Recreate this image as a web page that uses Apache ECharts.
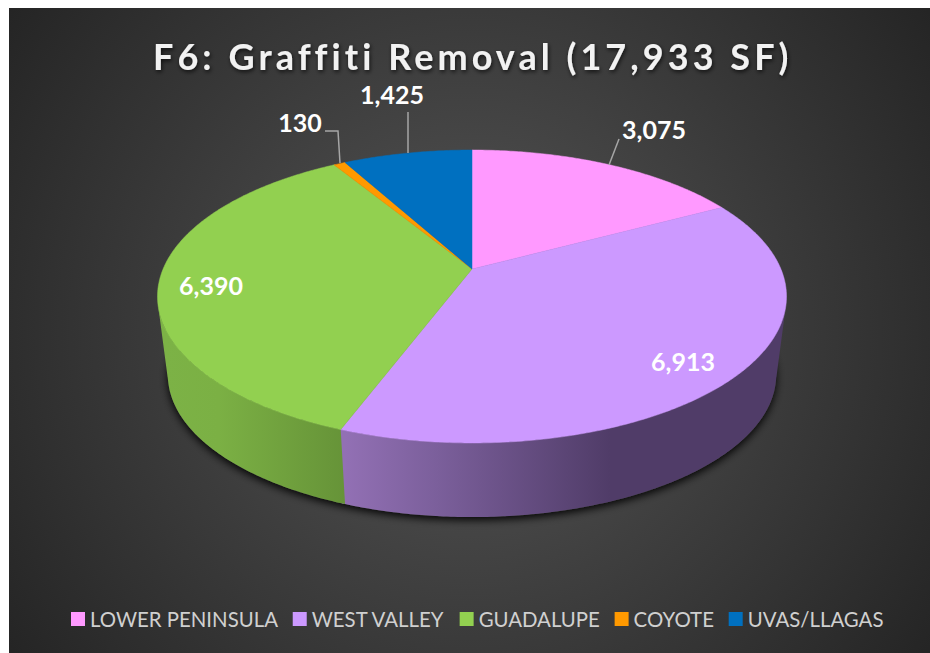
<!DOCTYPE html>
<html><head><meta charset="utf-8">
<style>
html,body{margin:0;padding:0;background:#fff}
#c{position:absolute;left:0;top:0;width:930px;height:653px}
text[style*="36px"]{letter-spacing:4.05px}
</style>
<script src="https://cdn.jsdelivr.net/npm/echarts@6/dist/echarts.min.js"></script>
</head><body><div id="c"></div>
<script>
const categories = ['LOWER PENINSULA','WEST VALLEY','GUADALUPE','COYOTE','UVAS/LLAGAS'];
const values = [3075,6913,6390,130,1425];
const valueLabels = ['3,075','6,913','6,390','130','1,425'];
const topColors = ['#ff99ff','#cc99ff','#92d050','#ff9900','#0070c0'];
const titleText = 'F6: Graffiti Removal (17,933 SF)';

// Projection of the disc (perspective view of a circle)
const cx=472, apexY=269, k=0.1877, A=308.9, B=141.3;
const botCy=375, midY=296.5, scaleX=0.967, scaleY=0.97;
const total = values.reduce((a,b)=>a+b,0);

function topPt(t){
  const u=Math.sin(t), w=-Math.cos(t), d=1-k*w;
  return [cx+A*u/d, apexY+B*w/d];
}
function botPt(t){
  const p=topPt(t);
  return [cx+(p[0]-cx)*scaleX, botCy+(p[1]-midY)*scaleY];
}
function facing(t){
  const e=0.001,a=topPt(t),b=topPt(t+e),q=botPt(t);
  const tx=b[0]-a[0],ty=b[1]-a[1],dx=q[0]-a[0],dy=q[1]-a[1];
  return tx*dy-ty*dx<0;
}
function arc(fn,a,b){
  const n=Math.max(2,Math.ceil((b-a)/0.01)),r=[];
  for(let i=0;i<=n;i++) r.push(fn(a+(b-a)*i/n));
  return r;
}
const wallFills = {
  1:()=>new echarts.graphic.LinearGradient(345,0,610,0,[{offset:0,color:'#9270b4'},{offset:0.35,color:'#7b5f9b'},{offset:1,color:'#503c68'}],true),
  2:()=>new echarts.graphic.LinearGradient(165,0,345,0,[{offset:0,color:'#7cb246'},{offset:0.3,color:'#7bb044'},{offset:1,color:'#669338'}],true)
};
function renderSlice(idx){
  return function(params,api){
    const start=api.value(0)/total*Math.PI*2, end=(api.value(0)+api.value(1))/total*Math.PI*2;
    const children=[];
    if(idx===0){
      children.push({type:'polygon',z2:0,shape:{points:arc(botPt,0,Math.PI*2)},
        style:{fill:'#3a3a3a',shadowBlur:9,shadowColor:'rgba(0,0,0,0.95)',shadowOffsetY:3}});
    }
    const f=[];
    for(let t=start;t<=end;t+=0.005){ if(facing(t)) f.push(t); }
    if(f.length>1 && wallFills[idx]){
      const a=f[0],b=f[f.length-1]+(idx===1?0.012:0);
      children.push({type:'polygon',z2:1,shape:{points:arc(topPt,a,b).concat(arc(botPt,a,b).reverse())},
        style:{fill:wallFills[idx]()}});
    }
    children.push({type:'polygon',z2:2,shape:{points:[[cx,apexY]].concat(arc(topPt,start,end))},
      style:{fill:topColors[idx],stroke:topColors[idx],lineWidth:0.5}});
    return {type:'group',children};
  };
}
let acc=0;
const series=categories.map((name,i)=>{
  const s={type:'custom',name,coordinateSystem:'none',silent:true,animation:false,
    itemStyle:{color:topColors[i]},
    data:[[acc,values[i]]],encode:{},renderItem:renderSlice(i)};
  acc+=values[i];
  return s;
});
const labelStyle={fill:'#fff',font:'bold 25px Lato',textAlign:'center',textVerticalAlign:'middle'};
const leader={stroke:'#a6a6a6',lineWidth:1.5,fill:null};
const graphicEls=[
  {type:'rect',z:-10,silent:true,shape:{x:9,y:8,width:921,height:645},
   style:{fill:new echarts.graphic.RadialGradient(470,330,570,[{offset:0,color:'#565656'},{offset:1,color:'#242424'}],true)}},
  {type:'text',x:654,y:129,z:20,style:Object.assign({text:valueLabels[0]},labelStyle)},
  {type:'text',x:683,y:361,z:20,style:Object.assign({text:valueLabels[1]},labelStyle)},
  {type:'text',x:211,y:285,z:20,style:Object.assign({text:valueLabels[2]},labelStyle)},
  {type:'text',x:300,y:122,z:20,style:Object.assign({text:valueLabels[3]},labelStyle)},
  {type:'text',x:392,y:94,z:20,style:Object.assign({text:valueLabels[4]},labelStyle)},
  {type:'polyline',z:20,silent:true,shape:{points:[[609,165],[619,139]]},style:leader},
  {type:'polyline',z:20,silent:true,shape:{points:[[325,131],[338,131],[340,163]]},style:leader},
  {type:'polyline',z:20,silent:true,shape:{points:[[408,112],[408,153]]},style:leader}
];
const chart=echarts.init(document.getElementById('c'),null,{renderer:'svg',width:930,height:653});
chart.setOption({
  animation:false,
  backgroundColor:'#fff',
  title:{text:titleText,left:148,top:33,
    textStyle:{color:'#f2f2f2',fontFamily:'Lato',fontWeight:'bold',fontSize:36,
      textShadowColor:'rgba(0,0,0,0.7)',textShadowBlur:4,textShadowOffsetY:2,textShadowOffsetX:1}},
  legend:{show:true,left:66,top:604,icon:'rect',itemWidth:14,itemHeight:14,itemGap:14.75,
    textStyle:{color:'#d0d0d0',fontFamily:'Lato',fontSize:20.4},
    itemStyle:{borderWidth:0},data:categories},
  graphic:{elements:graphicEls},
  series
});
</script></body></html>
